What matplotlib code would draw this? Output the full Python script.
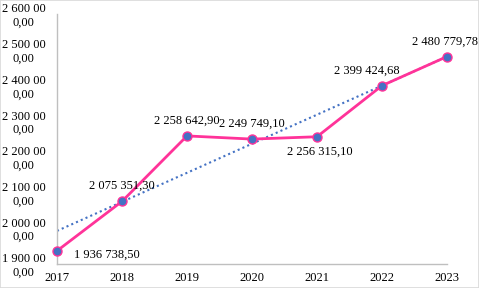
import matplotlib
matplotlib.use("Agg")
import matplotlib.pyplot as plt
import numpy as np
from matplotlib.patches import Rectangle

years = ["2017", "2018", "2019", "2020", "2021", "2022", "2023"]
values = [1936738.50, 2075351.30, 2258642.90, 2249749.10, 2256315.10, 2399424.68, 2480779.78]
labels = ["1 936 738,50", "2 075 351,30", "2 258 642,90", "2 249 749,10",
          "2 256 315,10", "2 399 424,68", "2 480 779,78"]
yticks = [1900000, 2000000, 2100000, 2200000, 2300000, 2400000, 2500000, 2600000]
ytick_labels = ["1 900 00\n0,00", "2 000 00\n0,00", "2 100 00\n0,00", "2 200 00\n0,00",
                "2 300 00\n0,00", "2 400 00\n0,00", "2 500 00\n0,00", "2 600 00\n0,00"]
# label offsets in points (dx, dy)
label_offsets = [(36, -3), (0, 11), (0, 11), (0, 11), (2, -11), (-11, 11), (-1.5, 11)]

plt.rcParams['font.family'] = ['Liberation Serif', 'DejaVu Serif']

fig = plt.figure(figsize=(4.79, 2.88), dpi=100)
ax = fig.add_axes([57/479, 24/288, 390/479, 250/288])
fig.patches.append(Rectangle((0, 0), 1, 1, transform=fig.transFigure, fill=False,
                             edgecolor='#d9d9d9', linewidth=1.2))

x = np.arange(len(years))
coef = np.polyfit(x, values, 1)
trend = np.polyval(coef, x)
ax.plot(x, trend, linestyle=(0, (1, 1.5)), color='#4472C4', linewidth=1.5, zorder=2)
ax.plot(x, values, color='#FF3399', linewidth=2, marker='o', markersize=6.5,
        markerfacecolor='#4472C4', markeredgecolor='#FF3399', markeredgewidth=1,
        zorder=3, clip_on=False)

for xi, v, lab, (dx, dy) in zip(x, values, labels, label_offsets):
    ax.annotate(lab, (xi, v), xytext=(dx, dy), textcoords='offset points',
                ha='center', va='center', fontsize=9, color='black')

ax.set_xlim(0, len(years) - 1)
ax.set_ylim(1900000, 2600000)
ax.set_xticks(x)
ax.set_xticklabels(years, fontsize=9)
ax.set_yticks(yticks)
ax.set_yticklabels(ytick_labels, fontsize=9)
for t in ax.get_yticklabels():
    t.set_horizontalalignment('center')
    t.set_multialignment('center')
    t.set_linespacing(1.15)
ax.tick_params(axis='y', length=0, pad=24)
ax.tick_params(axis='x', length=0, pad=6)
for s in ['top', 'right']:
    ax.spines[s].set_visible(False)
for s in ['left', 'bottom']:
    ax.spines[s].set_color('#bfbfbf')
    ax.spines[s].set_linewidth(1)

fig.savefig('out.png', dpi=100)
